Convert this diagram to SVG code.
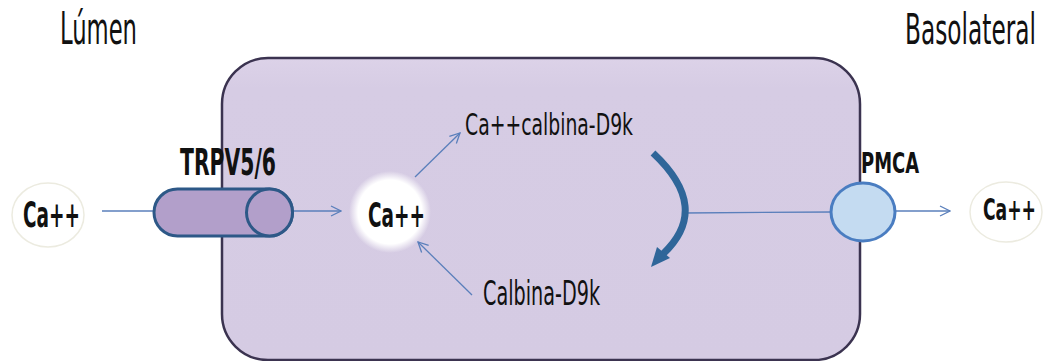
<svg xmlns="http://www.w3.org/2000/svg" width="1047" height="361" viewBox="0 0 1047 361">
<defs>
<style>
.t{font-family:"DejaVu Sans Condensed","Liberation Sans",sans-serif;fill:#111}
.b{font-weight:bold}
.ln{stroke:#5a7fbb;stroke-width:1.3;fill:none}
.arr{marker-end:url(#ah)}
</style>
<marker id="ah" viewBox="0 0 12 12" refX="11" refY="6" markerWidth="12" markerHeight="12" markerUnits="userSpaceOnUse" orient="auto">
<path d="M1,1 L11,6 L1,11" fill="none" stroke="#5a7fbb" stroke-width="1.3"/>
</marker>
<linearGradient id="cellg" x1="0" y1="0" x2="0" y2="1">
<stop offset="0" stop-color="#dcd2e8"/>
<stop offset="0.1" stop-color="#d6cce4"/>
<stop offset="1" stop-color="#d5cbe3"/>
</linearGradient>
<radialGradient id="glow" cx="0.5" cy="0.5" r="0.5">
<stop offset="0.78" stop-color="#ffffff"/>
<stop offset="1" stop-color="#ffffff" stop-opacity="0"/>
</radialGradient>
</defs>
<rect width="1047" height="361" fill="#ffffff"/>
<g id="labels">
<text class="t" x="60" y="44" font-size="45" textLength="77" lengthAdjust="spacingAndGlyphs">Lúmen</text>
<text class="t" x="905" y="44" font-size="42" textLength="131" lengthAdjust="spacingAndGlyphs">Basolateral</text>
</g>
<g id="cell">
<rect x="222" y="58" width="638" height="302" rx="46" ry="46" fill="url(#cellg)" stroke="#3b3350" stroke-width="2.5"/>
</g>
<g id="connectors">
<line class="ln" x1="102" y1="211" x2="156" y2="211"/>
<line class="ln arr" x1="293" y1="211" x2="341" y2="211"/>
<line class="ln arr" x1="415" y1="177" x2="460" y2="133"/>
<line class="ln arr" x1="472" y1="295" x2="418" y2="242"/>
<line class="ln" x1="684" y1="213" x2="832" y2="212"/>
<line class="ln arr" x1="896" y1="211" x2="950" y2="211"/>
<g id="cycle-arrow">
<path d="M653,153 Q712,208 663,254" fill="none" stroke="#2f6699" stroke-width="7"/>
<polygon points="670,258 657,247 651,267" fill="#2f6699"/>
</g>
</g>
<g id="ca-lumen">
<ellipse cx="48" cy="215" rx="36" ry="32" fill="#ffffff" stroke="#ecebe0" stroke-width="1.5"/>
<text class="t b" x="23" y="227" font-size="36" textLength="57" lengthAdjust="spacingAndGlyphs">Ca++</text>
</g>
<g id="trpv">
<path d="M177.5,189 L269.5,189 A23,23.5 0 0 1 269.5,236 L177.5,236 A23.5,23.5 0 0 1 177.5,189 Z" fill="#b29fca" stroke="#2d5887" stroke-width="3"/>
<ellipse cx="269.5" cy="212.5" rx="23" ry="23.5" fill="#b29fca" stroke="#2d5887" stroke-width="3"/>
<text class="t b" x="180" y="175" font-size="38" textLength="96" lengthAdjust="spacingAndGlyphs">TRPV5/6</text>
</g>
<g id="ca-cell">
<circle cx="390" cy="212" r="41" fill="url(#glow)"/>
<text class="t b" x="368" y="227" font-size="33" textLength="57" lengthAdjust="spacingAndGlyphs">Ca++</text>
</g>
<g id="ca-calbina">
<text class="t" x="465" y="135" font-size="30" textLength="168" lengthAdjust="spacingAndGlyphs">Ca++calbina-D9k</text>
</g>
<g id="calbina">
<text class="t" x="483" y="305" font-size="33" textLength="117" lengthAdjust="spacingAndGlyphs">Calbina-D9k</text>
</g>
<g id="pmca">
<ellipse cx="863" cy="212" rx="32" ry="29" fill="#c4dbf1" stroke="#4a7dc1" stroke-width="3"/>
<text class="t b" x="861" y="173" font-size="28" textLength="58" lengthAdjust="spacingAndGlyphs">PMCA</text>
</g>
<g id="ca-baso">
<ellipse cx="1006" cy="212" rx="36" ry="30" fill="#ffffff" stroke="#ecebe0" stroke-width="1.5"/>
<text class="t b" x="983" y="220" font-size="31" textLength="53" lengthAdjust="spacingAndGlyphs">Ca++</text>
</g>
</svg>
